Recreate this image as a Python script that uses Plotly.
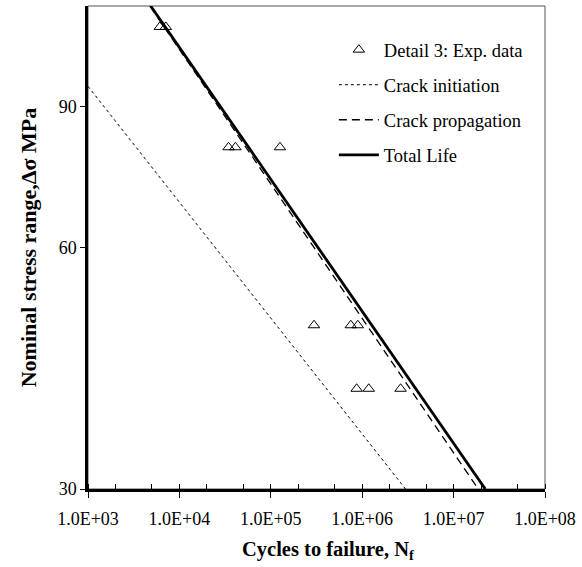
import math
import plotly.graph_objects as go

# Experimental data (Detail 3): cycles to failure and nominal stress range (MPa)
exp_N = [6.1e3, 7.1e3, 3.45e4, 4.1e4, 1.26e5, 2.97e5, 7.5e5, 8.95e5, 8.7e5, 1.18e6, 2.63e6]
exp_S = [113, 113, 80, 80, 80, 48, 48, 48, 40, 40, 40]

# Model curves
init_N = [1.0e3, 2.98e6]
init_S = [95.3, 30]
prop_N = [4.75e3, 1.86e7]
prop_S = [120, 30]
total_N = [4.85e3, 2.22e7]
total_S = [120, 30]

x_tickvals = [1e3, 1e4, 1e5, 1e6, 1e7, 1e8]
x_ticktext = ["1.0E+03", "1.0E+04", "1.0E+05", "1.0E+06", "1.0E+07", "1.0E+08"]
y_tickvals = [30, 60, 90]
y_range = [30, 120]

FONT = "Liberation Serif, Times New Roman, serif"

fig = go.Figure()
fig.add_trace(go.Scatter(x=exp_N, y=exp_S, mode="markers", name="Detail 3: Exp. data",
                         marker=dict(symbol="triangle-up-open", size=10, color="black",
                                     line=dict(width=1, color="black")),
                         legendgroup="a"))
fig.add_trace(go.Scatter(x=init_N, y=init_S, mode="lines", name="Crack initiation",
                         line=dict(color="black", width=1, dash="dot"), legendgroup="b"))
fig.add_trace(go.Scatter(x=prop_N, y=prop_S, mode="lines", name="Crack propagation",
                         line=dict(color="black", width=1.3, dash="8px,5px"), legendgroup="c"))
fig.add_trace(go.Scatter(x=total_N, y=total_S, mode="lines", name="Total Life",
                         line=dict(color="black", width=2.8), legendgroup="d"))

fig.update_layout(
    width=582, height=567,
    margin=dict(l=88, r=35, t=6, b=78),
    paper_bgcolor="white", plot_bgcolor="white",
    font=dict(family=FONT, size=18, color="black"),
    showlegend=True,
    legend=dict(x=0.538, y=0.948, xanchor="left", yanchor="top",
                bgcolor="rgba(0,0,0,0)", font=dict(family=FONT, size=18.5),
                tracegroupgap=8, itemwidth=40),
    xaxis=dict(type="log", range=[3, 8], tickvals=x_tickvals, ticktext=x_ticktext,
               showgrid=False, zeroline=False, showline=True, linecolor="black", linewidth=2.5,
               ticks="outside", ticklen=6, tickwidth=1, tickcolor="black",
               ticklabelstandoff=6,
               minor=dict(ticks="inside", ticklen=5, tickwidth=1, tickcolor="black", showgrid=False),
               tickfont=dict(size=18)),
    yaxis=dict(type="log", range=[math.log10(v) for v in y_range], tickvals=y_tickvals,
               showgrid=False, zeroline=False,
               showline=True, linecolor="black", linewidth=2.5,
               ticks="outside", ticklen=5, tickwidth=1, tickcolor="black",
               title=dict(text="<b>Nominal stress range,Δσ MPa</b>", font=dict(size=22), standoff=16),
               tickfont=dict(size=18)),
)
fig.add_annotation(text="<b>Cycles to failure, N<sub>f</sub></b>", xref="paper", yref="paper",
                   x=0.525, y=-0.128, xanchor="center", yanchor="middle", showarrow=False,
                   font=dict(family=FONT, size=20.5))
fig.add_shape(type="rect", xref="paper", yref="paper", x0=0, y0=0, x1=1, y1=1,
              line=dict(color="#555555", width=1), layer="below")

fig.write_html("out.html")
